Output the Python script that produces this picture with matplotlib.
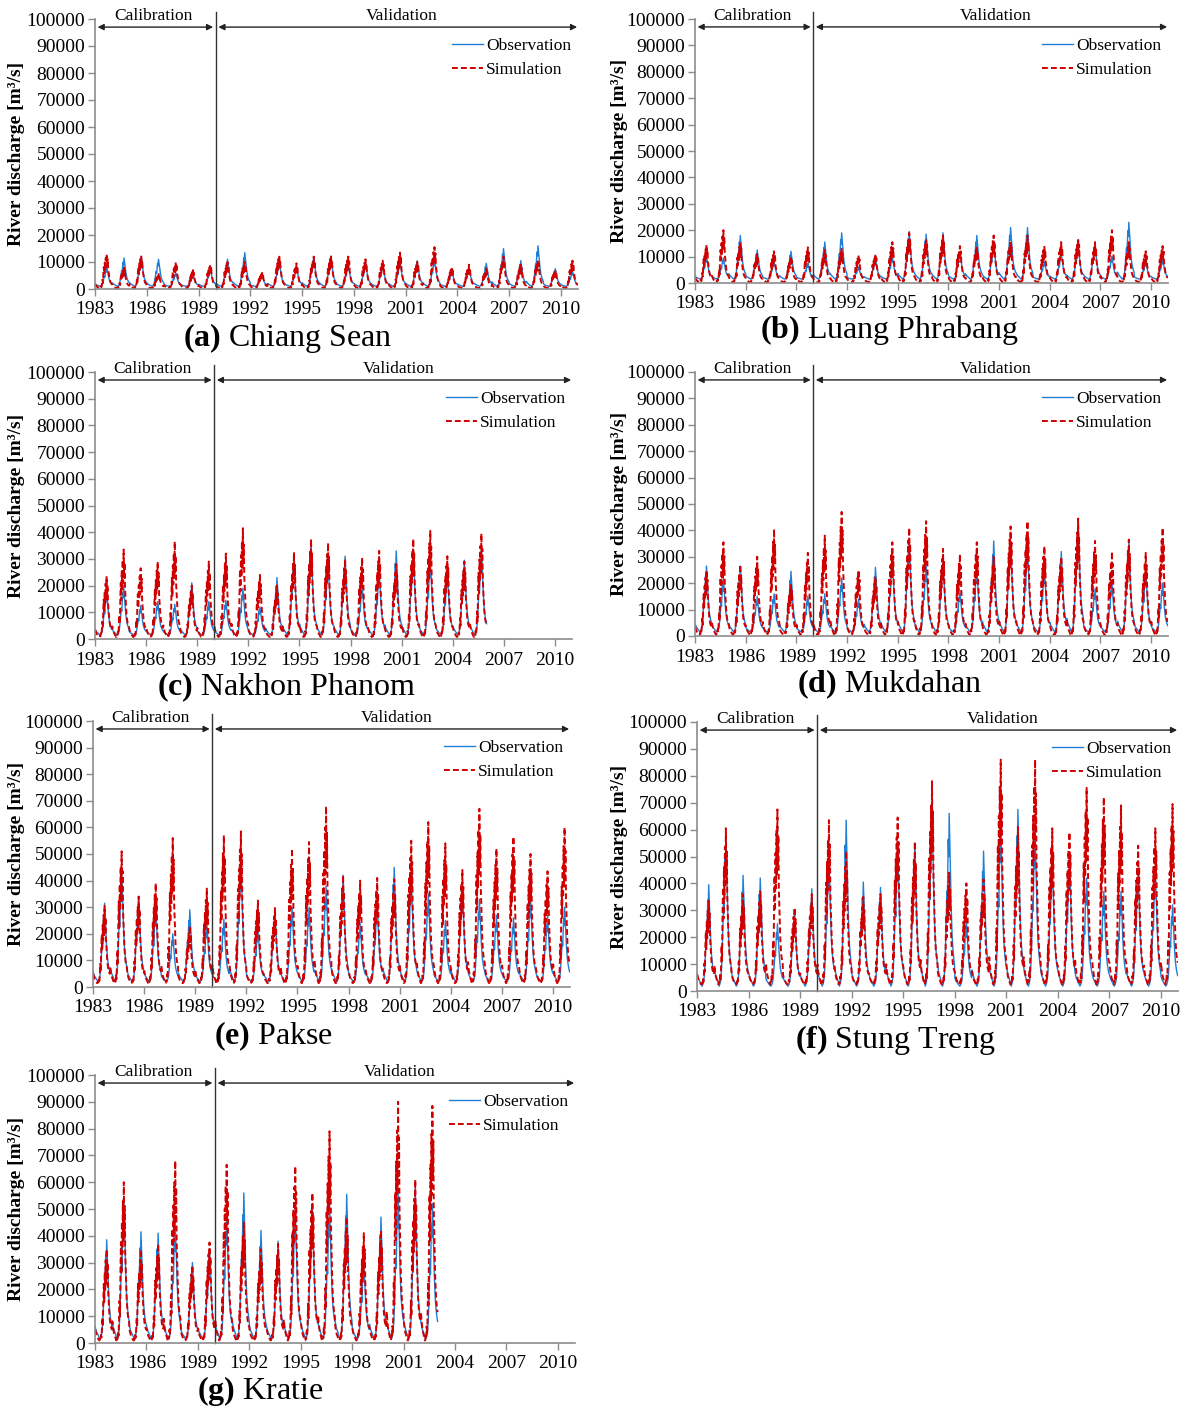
import numpy as np
import matplotlib
matplotlib.use('Agg')
import matplotlib.pyplot as plt

plt.rcParams['font.family'] = ['Liberation Serif', 'DejaVu Serif']
plt.rcParams['mathtext.fontset'] = 'custom'
plt.rcParams['mathtext.rm'] = 'Liberation Serif'
plt.rcParams['mathtext.bf'] = 'Liberation Serif:bold'

# ---------------- data ----------------
YEARS = list(range(1983, 2011))
X_TICKS = list(range(1983, 2011, 3))
Y_TICKS = list(range(0, 100001, 10000))

STATIONS = ['Chiang Sean', 'Luang Phrabang', 'Nakhon Phanom', 'Mukdahan',
            'Pakse', 'Stung Treng', 'Kratie']
TAGS = ['(a)', '(b)', '(c)', '(d)', '(e)', '(f)', '(g)']

# annual peak discharge [m3/s]
CS_OBS = [8000, 11500, 12000, 11000, 6000, 5000, 7500, 11000, 13500, 5000, 10000, 8000, 12000, 12000,
          9000, 10000, 9000, 10000, 10500, 11000, 7000, 8000, 9500, 15000, 10500, 16000, 7500, 6500]
CS_SIM = [13000, 8000, 12500, 6000, 10000, 7000, 9000, 10000, 10000, 6500, 12500, 9500, 12000, 12500,
          12000, 11000, 10500, 13500, 10000, 15500, 8000, 9000, 7500, 12000, 9000, 11000, 7000, 10500]
LP_OBS = [10000, 9500, 18000, 12500, 8000, 12000, 7500, 15500, 19000, 6000, 9000, 10000, 19500, 18500,
          19000, 12000, 18000, 15000, 21000, 21000, 8000, 11000, 14000, 14000, 10000, 23000, 8000, 9000]
LP_SIM = [14500, 20000, 15500, 11000, 12000, 10000, 13500, 12500, 13000, 10500, 11000, 15500, 19000, 17000,
          18000, 14000, 14000, 18000, 16000, 18000, 14000, 15500, 17000, 15500, 20000, 15500, 12000, 14000]
NP_OBS = [18000, 20000, 12500, 14000, 13000, 21000, 14000, 14500, 19000, 12000, 23000, 30000, 35000, 29000,
          31000, 20000, 25000, 33000, 33000, 30000, 25000, 29500, 34000]
NP_SIM = [23500, 33500, 26500, 29000, 36500, 20000, 29000, 32000, 41500, 24000, 20000, 32500, 37500, 36000,
          30000, 30500, 33000, 28000, 37500, 40500, 31000, 29000, 39500]
MK_OBS = [26500, 22000, 26500, 15000, 16000, 24500, 15000, 16000, 22000, 14000, 26000, 30000, 36000, 27000,
          29000, 17000, 26000, 36000, 36000, 34000, 26000, 32000, 44000, 18000, 20000, 36000, 25000, 20000]
MK_SIM = [25000, 35500, 27000, 30000, 40500, 20000, 31500, 38000, 47000, 25000, 22500, 35500, 41000, 43500,
          33000, 31000, 35500, 30000, 41500, 43500, 34000, 30000, 44500, 36000, 32000, 36500, 31500, 41000]
PK_OBS = [31500, 45000, 34000, 30000, 20000, 29000, 24000, 25500, 47500, 22000, 28000, 30000, 30000, 38000,
          42000, 24000, 31000, 45000, 41000, 35000, 25000, 38000, 33000, 27000, 26000, 34000, 27000, 30000]
PK_SIM = [30500, 51000, 34000, 39000, 56000, 23000, 37000, 57000, 58500, 32500, 30000, 52000, 54500, 68000,
          42000, 40000, 41000, 40500, 55000, 62000, 54000, 44000, 67000, 52000, 56500, 50000, 43500, 60000]
ST_OBS = [39500, 58000, 43000, 42000, 25000, 30000, 38000, 50000, 63500, 40500, 38500, 55500, 55000, 69000,
          66000, 26000, 52000, 63000, 67500, 60000, 50000, 51000, 42000, 37000, 37000, 45000, 45000, 32000]
ST_SIM = [33500, 60500, 36000, 37000, 67500, 31000, 36000, 63500, 52000, 35000, 36000, 64500, 55500, 78000,
          44000, 40000, 41500, 86000, 61000, 86000, 60500, 59000, 75500, 72000, 69000, 54000, 60500, 69500]
KR_OBS = [38500, 54000, 41500, 41000, 45000, 30000, 35000, 48000, 56000, 42000, 38000, 50000, 50000, 52000,
          55500, 30000, 47000, 56500, 58000, 52000]
KR_SIM = [35000, 60000, 35000, 37000, 68000, 29000, 37500, 66500, 45000, 35000, 37000, 66000, 56000, 79000,
          47000, 41000, 42000, 90000, 61000, 88500]

# dry-season base flow [m3/s]
OBS_LOW = [1000, 1500, 1500, 1500, 2000, 1800, 1500]
SIM_LOW = [300, 300, 800, 500, 1500, 2500, 1000]

# relative seasonal hydrograph (dekads, Jan..Dec) read from a typical year
OBS_SHAPE = [0.12, 0.10, 0.08, 0.07, 0.06, 0.05, 0.04, 0.03, 0.02, 0.01, 0.0, 0.01,
             0.02, 0.04, 0.07, 0.12, 0.20, 0.30, 0.42, 0.55, 0.48, 0.68, 0.85, 0.75,
             1.00, 0.88, 0.78, 0.62, 0.48, 0.38, 0.30, 0.25, 0.21, 0.18, 0.15, 0.13]
SIM_SHAPE = [0.12, 0.09, 0.07, 0.05, 0.04, 0.03, 0.02, 0.01, 0.0, 0.0, 0.02, 0.01,
             0.06, 0.03, 0.12, 0.25, 0.15, 0.45, 0.62, 0.42, 0.75, 0.55, 0.88, 0.62,
             1.00, 0.68, 0.85, 0.55, 0.45, 0.33, 0.26, 0.21, 0.17, 0.15, 0.13, 0.12]

OBS_PEAKS = [CS_OBS, LP_OBS, NP_OBS, MK_OBS, PK_OBS, ST_OBS, KR_OBS]
SIM_PEAKS = [CS_SIM, LP_SIM, NP_SIM, MK_SIM, PK_SIM, ST_SIM, KR_SIM]

# ---------------- layout ----------------
W, H = 1189, 1409
# axes boxes in pixels: left, right, top, bottom
BOXES = [(95, 578, 19, 289), (695, 1168, 19, 283),
         (95, 572, 372, 639), (695, 1168, 372, 636),
         (93, 570, 721, 987), (697, 1178, 722, 991),
         (95, 575, 1075, 1343)]
TITLE_POS = [(288, 338), (890, 330), (287, 687), (890, 684),
             (274, 1036), (895, 1040), (260, 1391)]
YLABEL_X = [17, 620, 17, 620, 17, 620, 17]

OBS_COLOR = '#1f7fd4'
SIM_COLOR = '#d00000'
AX_GRAY = '#8c8c8c'


def hydrograph(peaks, low, shape):
    t, q = [], []
    n = len(shape)
    for i, pk in enumerate(peaks):
        y0 = YEARS[i]
        for k, s in enumerate(shape):
            t.append(y0 + (k + 0.5) / n)
            q.append(low + (pk - low) * s)
    return np.array(t), np.array(q)


fig = plt.figure(figsize=(W / 100, H / 100), dpi=100)

for i in range(7):
    l, r, tp, b = BOXES[i]
    ax = fig.add_axes([l / W, 1 - b / H, (r - l) / W, (b - tp) / H])
    to, qo = hydrograph(OBS_PEAKS[i], OBS_LOW[i], OBS_SHAPE)
    ts, qs = hydrograph(SIM_PEAKS[i], SIM_LOW[i], SIM_SHAPE)
    ax.plot(to, qo, color=OBS_COLOR, lw=1.0, label='Observation')
    ax.plot(ts, qs, color=SIM_COLOR, lw=1.4, dashes=(3, 1.6), label='Simulation')

    ax.set_xlim(1983, 2011)
    ax.set_ylim(0, 100000)
    ax.set_xticks(X_TICKS)
    ax.set_xticklabels([str(v) for v in X_TICKS])
    ax.set_yticks(Y_TICKS)
    ax.set_yticklabels([str(v) for v in Y_TICKS])
    for s in ['top', 'right']:
        ax.spines[s].set_visible(False)
    for s in ['left', 'bottom']:
        ax.spines[s].set_color(AX_GRAY)
        ax.spines[s].set_linewidth(1.2)
    ax.tick_params(axis='both', colors=AX_GRAY, labelcolor='black', labelsize=14,
                   width=1, length=5, direction='out')
    ax.tick_params(axis='x', pad=4)
    ax.tick_params(axis='y', pad=2)

    # calibration / validation divider
    ax.plot([1990, 1990], [0, 102700], color='#333333', lw=1.0, clip_on=False)
    ax.annotate('', xy=(1989.85, 97000), xytext=(1983.15, 97000),
                arrowprops=dict(arrowstyle='<|-|>', color='#222222', lw=1.0,
                                mutation_scale=9, shrinkA=0, shrinkB=0),
                annotation_clip=False)
    ax.annotate('', xy=(2010.95, 97000), xytext=(1990.15, 97000),
                arrowprops=dict(arrowstyle='<|-|>', color='#222222', lw=1.0,
                                mutation_scale=9, shrinkA=0, shrinkB=0),
                annotation_clip=False)
    ax.text(1986.4, 101200, 'Calibration', ha='center', va='center', fontsize=12.5, clip_on=False)
    ax.text(2000.8, 101200, 'Validation', ha='center', va='center', fontsize=12.5, clip_on=False)

    ax.legend(loc='upper right', bbox_to_anchor=(1.0, 0.955), frameon=False,
              borderaxespad=0, handlelength=1.8, handletextpad=0.15,
              labelspacing=0.45, fontsize=12.5)

    fig.text(YLABEL_X[i] / W, 1 - ((tp + b) / 2) / H, 'River discharge [m³/s]',
             rotation=90, ha='center', va='center', fontsize=14, fontweight='bold')
    tx, ty = TITLE_POS[i]
    fig.text(tx / W, 1 - ty / H, r'$\mathbf{' + TAGS[i] + '}$ ' + STATIONS[i],
             ha='center', va='center', fontsize=23)

fig.savefig('out.png', dpi=100)
